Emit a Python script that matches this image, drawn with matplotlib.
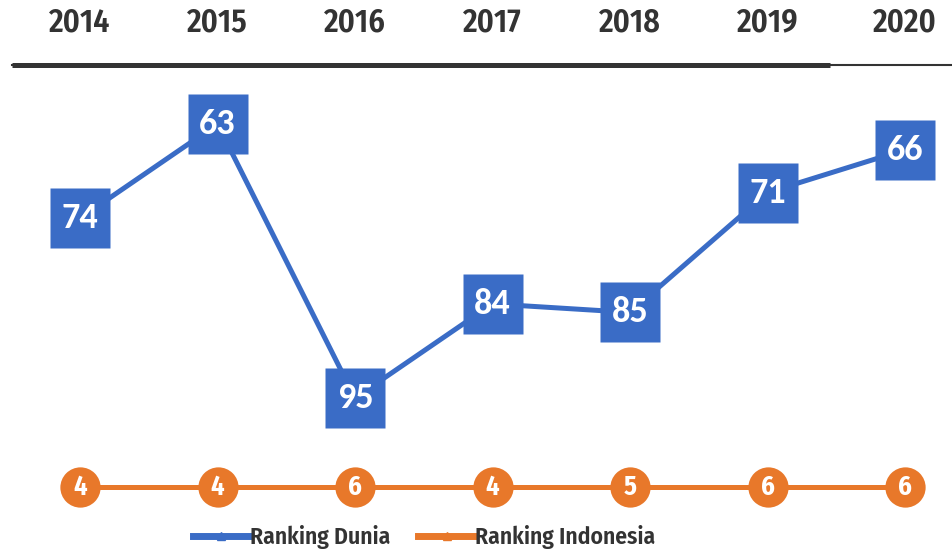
import numpy as np
import matplotlib
matplotlib.use('Agg')
from matplotlib import pyplot as plt
from matplotlib.lines import Line2D

years = [2014, 2015, 2016, 2017, 2018, 2019, 2020]
rank_dunia = [74, 63, 95, 84, 85, 71, 66]
rank_indonesia = [4, 4, 6, 4, 5, 6, 6]

blue = '#3A6CC6'
orange = '#E8782A'
dark = '#333333'
narrow = ['Fira Sans Condensed', 'Barlow Semi Condensed', 'DejaVu Sans']
boxfont = ['Carlito', 'Open Sans', 'DejaVu Sans']

fig = plt.figure(figsize=(9.52, 5.52), dpi=100)
x = np.arange(len(years))

# world ranking (lower number = higher up)
ax = fig.add_axes([12 / 952, 112 / 552, 940 / 952, 375 / 552])
ax.plot(x, rank_dunia, color=blue, lw=3.6, zorder=2)
ax.plot(x, rank_dunia, ls='none', marker='s', ms=43, mfc=blue, mec='none', zorder=3)
for xi, r in zip(x, rank_dunia):
    ax.text(xi, r, str(r), color='white', fontsize=26, fontweight='bold',
            family=boxfont, ha='center', va='center', zorder=4)
ax.set_xlim(-68 / 137.5, 6 + 47 / 137.5)
ax.set_ylim(99.9, 56.1)
ax.xaxis.tick_top()
ax.set_xticks(x)
ax.set_xticklabels([str(y) for y in years], fontsize=23, fontweight='semibold',
                   family=narrow, color=dark)
ax.tick_params(axis='x', length=0, pad=19)
ax.set_yticks([])
for s in ['left', 'right', 'bottom']:
    ax.spines[s].set_visible(False)
ax.spines['top'].set_linewidth(1.5)
ax.spines['top'].set_color(dark)
# thicker part of the header rule
ax.plot([0, 818 / 940], [1, 1], transform=ax.transAxes, color=dark, lw=3.6,
        clip_on=False, solid_capstyle='butt')

# Indonesia ranking row
ax2 = fig.add_axes([12 / 952, 40 / 552, 940 / 952, 50 / 552])
row = np.zeros(len(rank_indonesia))
ax2.plot(x, row, color=orange, lw=3.6, marker='o', ms=29, mfc=orange, mec='none')
for xi, r in zip(x, rank_indonesia):
    ax2.text(xi, 0, str(r), color='white', fontsize=19, fontweight='bold',
             family=narrow, ha='center', va='center')
ax2.set_xlim(ax.get_xlim())
ax2.set_ylim(-1, 1)
ax2.axis('off')

handles = [Line2D([], [], color=blue, lw=5, marker='^', ms=6),
           Line2D([], [], color=orange, lw=5, marker='^', ms=6)]
leg = fig.legend(handles, ['Ranking Dunia', 'Ranking Indonesia'], loc='center',
                 bbox_to_anchor=(424 / 952, 1 - 537 / 552), ncol=2, frameon=False,
                 handlelength=2.4, handletextpad=0.0, columnspacing=1.2,
                 prop={'family': narrow, 'size': 17, 'weight': 'semibold'})
for t in leg.get_texts():
    t.set_color(dark)

fig.savefig('out.png', dpi=100, facecolor='white')
